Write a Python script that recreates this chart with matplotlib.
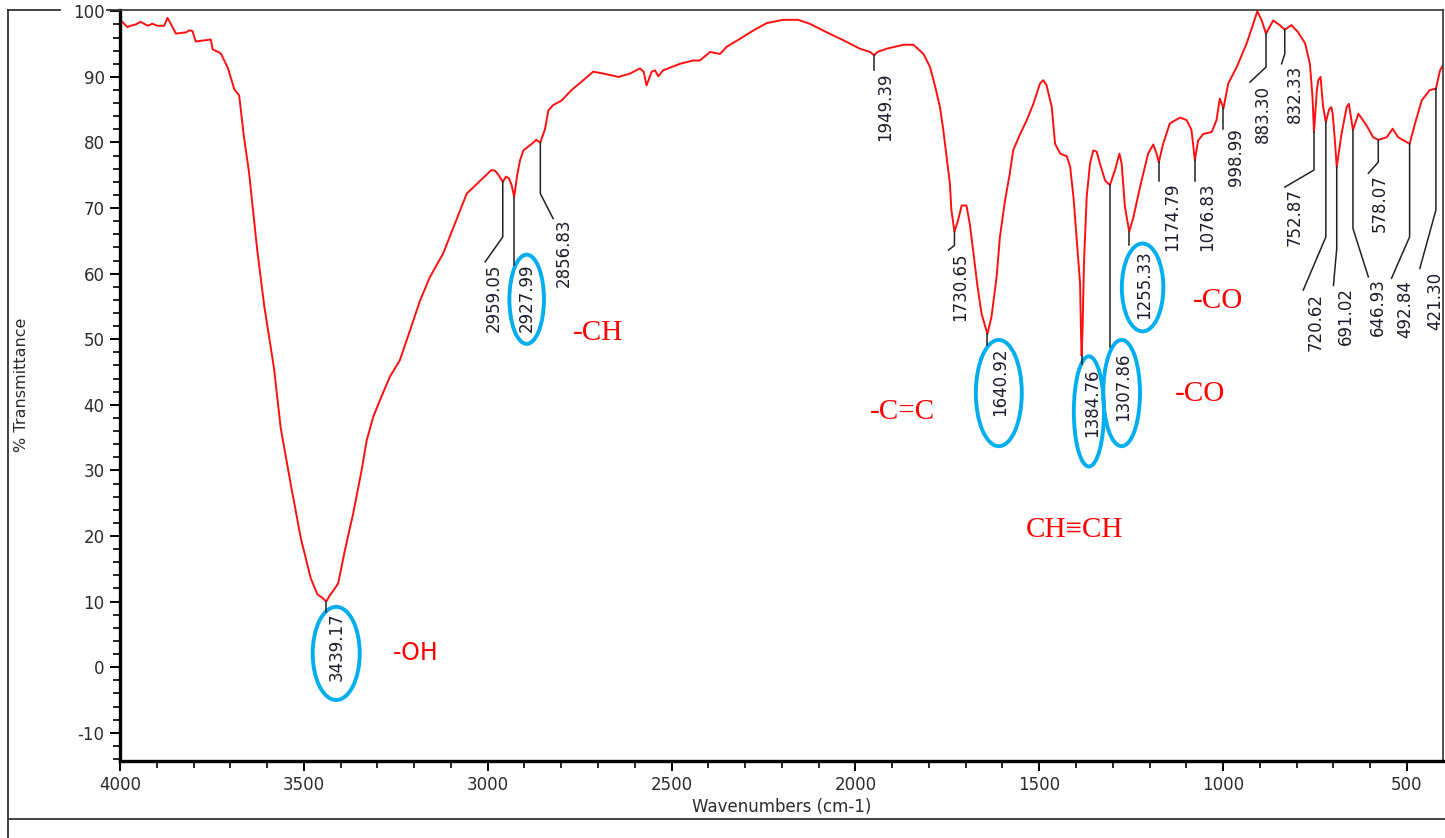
import numpy as np
import matplotlib.pyplot as plt
from matplotlib.patches import Ellipse
from matplotlib.lines import Line2D
from matplotlib.ticker import MultipleLocator

W, H = 1445, 838

# FTIR trace (wavenumber in cm-1, % transmittance)
wavenumber = [
    4000, 3994, 3980, 3971, 3957, 3944, 3925, 3912, 3898, 3880, 3871, 3862,
    3848, 3820, 3812, 3803, 3794, 3753, 3748, 3726, 3707, 3689, 3676, 3663,
    3649, 3627, 3608, 3581, 3563, 3536, 3508, 3481, 3463, 3450, 3439.17, 3430,
    3419.5, 3406.5, 3388.5, 3366, 3343, 3329, 3311, 3293, 3266, 3239, 3211,
    3184, 3157, 3121, 3093, 3057, 3029, 2990, 2980, 2970, 2959.05, 2950, 2942,
    2935, 2927.99, 2920, 2912, 2903, 2880, 2868, 2856.83, 2844, 2835, 2822,
    2799, 2772, 2744, 2713, 2685, 2644, 2613, 2586, 2576, 2568, 2554, 2545,
    2536, 2523, 2477, 2441, 2423, 2395, 2368, 2350, 2314, 2277, 2241, 2197,
    2156, 2124, 2078, 2033, 1988, 1960, 1949.39, 1940, 1915, 1869, 1842, 1815,
    1797, 1783, 1770, 1761, 1752, 1743, 1739, 1730.65, 1721, 1711, 1698, 1689,
    1680, 1669, 1657, 1640.92, 1630, 1616, 1607, 1593, 1580, 1571, 1552, 1534,
    1516, 1498, 1489, 1480, 1466, 1457, 1443, 1425, 1416, 1407, 1398, 1389,
    1386.5, 1384.76, 1382, 1378.5, 1371, 1362, 1353, 1344, 1335, 1321, 1307.86,
    1294, 1282, 1276, 1267, 1255.33, 1244, 1226, 1204, 1190, 1181, 1174.79,
    1163, 1145, 1117, 1099, 1086, 1076.83, 1068, 1054, 1031, 1018, 1009,
    998.99, 986, 963, 936, 918, 907, 895, 883.30, 864, 846, 832.33, 814, 796,
    777, 764, 757, 752.87, 745, 741, 735, 728, 720.62, 712, 706, 702, 696,
    691.02, 678, 664, 658, 646.93, 632, 610, 592, 578.07, 555, 539, 524,
    492.84, 478, 460, 438, 421.30, 410, 402]
transmittance = [
    98.6, 98.4, 97.6, 97.8, 98.0, 98.4, 97.8, 98.1, 97.8, 97.8, 99.0, 98.1,
    96.6, 96.8, 97.1, 97.0, 95.4, 95.7, 94.2, 93.6, 91.4, 88.1, 87.2, 80.9,
    75.4, 63.7, 55.2, 45.5, 36.5, 28.0, 19.6, 13.5, 11.1, 10.6, 10.0, 10.9,
    11.7, 12.8, 17.8, 23.4, 30.0, 34.6, 38.2, 40.7, 44.3, 46.8, 51.4,
    55.9, 59.5, 63.1, 67.1, 72.2, 73.7, 75.8, 75.7, 75.0, 74.0, 74.8, 74.5,
    73.5, 71.7, 75.0, 77.3, 78.8, 79.8, 80.4, 80.0, 82.1, 84.9, 85.7,
    86.4, 88.0, 89.3, 90.8, 90.5, 90.0, 90.5, 91.3, 90.8, 88.7, 90.8, 91.0,
    90.1, 91.0, 92.0, 92.5, 92.5, 93.8, 93.5, 94.6, 95.8, 97.1, 98.2, 98.7,
    98.7, 98.1, 96.8, 95.6, 94.3, 93.8, 93.3, 93.8, 94.3, 94.9, 94.9, 93.5,
    91.5, 88.5, 85.4, 81.9, 77.8, 73.7, 69.7, 66.4, 68.1, 70.4, 70.4, 67.6,
    63.6, 58.5, 53.9, 50.8, 53.4, 59.5, 65.6, 71.2, 75.3, 78.8, 81.3, 83.4,
    85.9, 89.0, 89.5, 88.7, 85.4, 79.8, 78.3, 77.9, 76.3, 71.7, 65.1, 58.5,
    51.0, 47.5, 52.0, 61.5, 71.7, 76.8, 78.8, 78.6, 76.8, 74.2, 73.5,
    75.8, 78.3, 76.8, 70.2, 66.4, 68.6, 73.2, 78.3, 79.7, 78.3, 77.0,
    79.8, 82.9, 83.8, 83.4, 81.9, 77.3, 80.3, 81.3, 81.6, 83.4, 86.7,
    85.2, 89.0, 91.5, 95.1, 98.1, 100.0, 98.6, 96.6, 98.6, 97.9, 97.2, 97.9, 96.8,
    95.1, 92.0, 87.0, 81.6, 88.0, 89.5, 90.0, 85.4, 83.1, 85.0, 85.4, 84.4, 80.3,
    76.3, 81.3, 85.4, 85.9, 81.9, 84.4, 82.6, 80.8, 80.4, 80.8, 82.1, 80.8,
    79.8, 82.9, 86.4, 88.0, 88.2, 91.0, 91.8]

# peak picks with leader geometry: knee of the leader, end of the leader, text top
peak_wn = [3439.17, 2959.05, 2927.99, 2856.83, 1949.39, 1730.65, 1640.92,
           1384.76, 1307.86, 1255.33, 1174.79, 1076.83, 998.99, 883.30, 832.33,
           752.87, 720.62, 691.02, 646.93, 578.07, 492.84, 421.30]
knee_t = [8.4, 65.6, 61.3, 72.2, 91.0, 64.3, 49.1, 46.3, 48.8, 64.3, 74.2,
          74.2, 82.1, 91.5, 93.5, 75.8, 65.6, 63.8, 66.9, 77.0, 65.6, 69.7]
end_wn = [None, 3007, None, 2822, None, 1747, None, None, None, None, None,
          None, None, 927, 841, 832, 782, 700, 605, 605, 542, 465]
end_t = [None, 61.8, None, 68.4, None, 63.6, None, None, None, None, None,
         None, None, 89.2, 92.0, 73.2, 57.5, 58.2, 59.5, 75.3, 59.3, 60.8]
text_wn = [3410, 2983, 2894, 2792, 1918, 1716, 1607, 1357, 1272, 1215, 1140,
           1043, 965, 893, 805, 805, 748, 666, 580, 573, 505, 424]
text_t = [8.4, 61.6, 61.6, 68.4, 90.7, 63.3, 48.8, 45.6, 48.0, 63.6, 73.9,
          73.9, 82.2, 88.7, 91.8, 73.0, 57.0, 57.9, 59.3, 75.2, 59.0, 60.2]

# circled picks: centre (cm-1, %T), size (cm-1, %T)
ring_wn = [3412, 2894, 1610, 1365, 1276, 1219]
ring_t = [2.1, 56.1, 41.8, 39.0, 41.8, 57.9]
ring_w = [128, 94, 125, 82, 100, 113]
ring_h = [14.2, 13.6, 16.2, 16.8, 16.2, 13.4]

# functional group notes (the first one is set in a sans face)
group_text = ["-OH", "-CH", "-C=C", "-CO", "-CO", "CH\u2261CH"]
group_wn = [3195, 2700, 1871, 1014, 1063, 1403]
group_t = [2.1, 50.9, 38.9, 55.8, 41.6, 20.9]
group_sans = [True, False, False, False, False, False]

plt.rcParams['font.family'] = ['DejaVu Sans']
plt.rcParams['axes.unicode_minus'] = False

fig = plt.figure(figsize=(W / 100, H / 100), dpi=100)
ax = fig.add_axes([120 / W, 1 - 761 / H, 1323 / W, 751 / H])

ax.plot(wavenumber, transmittance, color="#ff1010", linewidth=1.4)

ax.set_xlim(4000, 402)
ax.set_ylim(-14.3, 100.2)
ax.xaxis.set_major_locator(MultipleLocator(500))
ax.xaxis.set_minor_locator(MultipleLocator(100))
ax.yaxis.set_major_locator(MultipleLocator(10))
ax.yaxis.set_minor_locator(MultipleLocator(2))
ax.tick_params(which="major", length=7, width=1.4, labelsize=12,
               labelcolor="#2b2b2b", pad=4)
ax.tick_params(which="minor", length=5, width=1.2)

for side in ["left", "bottom"]:
    ax.spines[side].set_linewidth(2.4)
for side in ["top", "right"]:
    ax.spines[side].set_linewidth(1.2)
    ax.spines[side].set_color("#333333")

ax.set_xlabel("Wavenumbers (cm-1)", fontsize=12, color="#2b2b2b", labelpad=3)
fig.text(22 / W, 1 - 385 / H, "% Transmittance", rotation=90, ha="center",
         va="center", fontsize=11.5, color="#2b2b2b")

# peak leaders and labels
rev_wn = wavenumber[::-1]
rev_t = transmittance[::-1]
for i, wn in enumerate(peak_wn):
    t0 = np.interp(wn, rev_wn, rev_t)
    xs = [wn, wn]
    ys = [t0, knee_t[i]]
    if end_wn[i] is not None:
        xs.append(end_wn[i])
        ys.append(end_t[i])
    ax.plot(xs, ys, color="#222222", linewidth=1.1, clip_on=False)
    ax.text(text_wn[i], text_t[i], f"{wn:.2f}", rotation=90, ha="center",
            va="top", fontsize=12, color="#1c1c2c", clip_on=False)

for cx, cy, w, h in zip(ring_wn, ring_t, ring_w, ring_h):
    ax.add_patch(Ellipse((cx, cy), w, h, fill=False, edgecolor="#00aeef",
                         linewidth=2.8, clip_on=False))

for label, gx, gy, sans in zip(group_text, group_wn, group_t, group_sans):
    if sans:
        ax.text(gx, gy, label, color="red", fontsize=17, ha="center",
                va="center", fontfamily="DejaVu Sans")
    else:
        ax.text(gx, gy, label, color="red", fontsize=21, ha="center",
                va="center", fontfamily=["Liberation Serif", "DejaVu Serif"])

# outer frame around the plot panel
frame = [((8, 8), (10, H)), ((8, 60), (10, 10)), ((107, 120), (10, 10)),
         ((8, W), (819, 819))]
for (x0, x1), (y0, y1) in frame:
    fig.add_artist(Line2D([x0 / W, x1 / W], [1 - y0 / H, 1 - y1 / H],
                          transform=fig.transFigure, color="#333333",
                          linewidth=1.3))

fig.savefig("out.png", dpi=100)
